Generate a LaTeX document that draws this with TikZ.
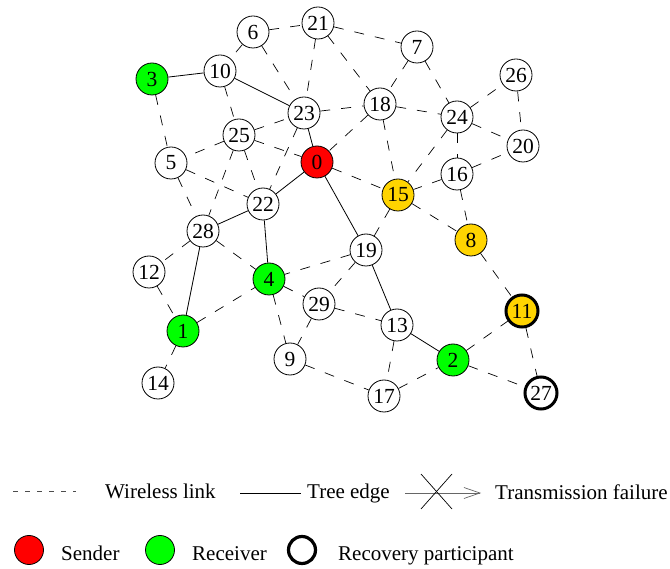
\documentclass[tikz,border=0pt]{standalone}
\usepackage{fontspec}
\setmainfont{Liberation Serif}
\usetikzlibrary{arrows.meta}
\definecolor{sendred}{RGB}{255,0,0}
\definecolor{recvgreen}{RGB}{0,255,0}
\definecolor{lostgold}{RGB}{255,212,0}

\begin{document}
\begin{tikzpicture}[x=1pt,y=-1pt,
  nd/.style={draw,circle,minimum size=32pt,inner sep=0pt,line width=0.8pt,
             font=\fontsize{21.5}{24}\selectfont},
  snd/.style={nd,fill=sendred},
  rcv/.style={nd,fill=recvgreen},
  lost/.style={nd,fill=lostgold},
  rec/.style={line width=3pt},
  wl/.style={dash pattern=on 10pt off 11pt,line width=0.7pt},
  treeedge/.style={line width=0.8pt},
  lbl/.style={anchor=base west,inner sep=0pt,font=\fontsize{21}{25}\selectfont}
]
\useasboundingbox (0,0) rectangle (670,569);

% nodes
\node[snd]  (n0)  at (317,162) {0};
\node[rcv]  (n1)  at (183,331) {1};
\node[rcv]  (n2)  at (453,360) {2};
\node[rcv]  (n3)  at (152,79)  {3};
\node[rcv]  (n4)  at (269,279) {4};
\node[nd]   (n5)  at (171,163) {5};
\node[nd]   (n6)  at (253,32)  {6};
\node[nd]   (n7)  at (417,47)  {7};
\node[lost] (n8)  at (471,240) {8};
\node[nd]   (n9)  at (290,359) {9};
\node[nd]   (n10) at (220,71)  {10};
\node[lost,rec] (n11) at (522,311) {11};
\node[nd]   (n12) at (149,272) {12};
\node[nd]   (n13) at (397,325) {13};
\node[nd]   (n14) at (158,383) {14};
\node[lost] (n15) at (398,195) {15};
\node[nd]   (n16) at (457,174) {16};
\node[nd]   (n17) at (384,396) {17};
\node[nd]   (n18) at (380,104) {18};
\node[nd]   (n19) at (366,250) {19};
\node[nd]   (n20) at (523,146) {20};
\node[nd]   (n21) at (318,23)  {21};
\node[nd]   (n22) at (263,204) {22};
\node[nd]   (n23) at (304,113) {23};
\node[nd]   (n24) at (457,117) {24};
\node[nd]   (n25) at (239,135) {25};
\node[nd]   (n26) at (516,75)  {26};
\node[nd,rec] (n27) at (541,393) {27};
\node[nd]   (n28) at (203,231) {28};
\node[nd]   (n29) at (319,304) {29};

% wireless links
\draw[wl] (n6) -- (n21);
\draw[wl] (n6) -- (n10);
\draw[wl] (n6) -- (n23);
\draw[wl] (n21) -- (n23);
\draw[wl] (n21) -- (n7);
\draw[wl] (n21) -- (n18);
\draw[wl] (n7) -- (n18);
\draw[wl] (n7) -- (n24);
\draw[wl] (n3) -- (n5);
\draw[wl] (n10) -- (n25);
\draw[wl] (n25) -- (n23);
\draw[wl] (n23) -- (n18);
\draw[wl] (n23) -- (n22);
\draw[wl] (n25) -- (n5);
\draw[wl] (n25) -- (n22);
\draw[wl] (n25) -- (n28);
\draw[wl] (n25) -- (n0);
\draw[wl] (n5) -- (n22);
\draw[wl] (n5) -- (n28);
\draw[wl] (n18) -- (n24);
\draw[wl] (n18) -- (n0);
\draw[wl] (n18) -- (n15);
\draw[wl] (n24) -- (n15);
\draw[wl] (n24) -- (n26);
\draw[wl] (n24) -- (n20);
\draw[wl] (n24) -- (n16);
\draw[wl] (n26) -- (n20);
\draw[wl] (n16) -- (n20);
\draw[wl] (n16) -- (n15);
\draw[wl] (n16) -- (n8);
\draw[wl] (n0) -- (n15);
\draw[wl] (n15) -- (n19);
\draw[wl] (n15) -- (n8);
\draw[wl] (n19) -- (n4);
\draw[wl] (n19) -- (n29);
\draw[wl] (n28) -- (n12);
\draw[wl] (n28) -- (n4);
\draw[wl] (n12) -- (n1);
\draw[wl] (n1) -- (n4);
\draw[wl] (n1) -- (n14);
\draw[wl] (n4) -- (n9);
\draw[wl] (n4) -- (n29);
\draw[wl] (n29) -- (n13);
\draw[wl] (n29) -- (n9);
\draw[wl] (n9) -- (n17);
\draw[wl] (n13) -- (n17);
\draw[wl] (n17) -- (n2);
\draw[wl] (n2) -- (n11);
\draw[wl] (n2) -- (n27);
\draw[wl] (n8) -- (n11);
\draw[wl] (n11) -- (n27);

% tree edges
\draw[treeedge] (n3) -- (n10);
\draw[treeedge] (n10) -- (n23);
\draw[treeedge] (n23) -- (n0);
\draw[treeedge] (n0) -- (n22);
\draw[treeedge] (n22) -- (n28);
\draw[treeedge] (n28) -- (n1);
\draw[treeedge] (n22) -- (n4);
\draw[treeedge] (n0) -- (n19);
\draw[treeedge] (n19) -- (n13);
\draw[treeedge] (n13) -- (n2);

% legend
\coordinate (wa) at (13,491);
\coordinate (wb) at (76,491);
\draw[dash pattern=on 5pt off 7pt,line width=0.6pt,black!70] (wa) -- (wb);
\node[lbl] (twl) at (105,498) {Wireless link};
\coordinate (ta) at (240,493);
\coordinate (tb) at (301,493);
\draw[treeedge] (ta) -- (tb);
\node[lbl] (tte) at (307,498) {Tree edge};
\coordinate (fa) at (405,493);
\coordinate (fb) at (481,493);
\draw[black!60,line width=0.7pt,-{Straight Barb[length=16pt,width=11pt]}] (fa) -- (fb);
\draw[line width=0.7pt] (421,474) -- (452,509);
\draw[line width=0.7pt] (452,474) -- (421,509);
\node[lbl] (ttf) at (495,500) {Transmission failure};

\node[draw,circle,minimum size=29pt,inner sep=0pt,line width=0.8pt,fill=sendred] (lsnd) at (29,550) {};
\node[lbl] (tsnd) at (61,560) {Sender};
\node[draw,circle,minimum size=29pt,inner sep=0pt,line width=0.8pt,fill=recvgreen] (lrcv) at (160,550) {};
\node[lbl] (trcv) at (192,560) {Receiver};
\node[draw,circle,minimum size=27pt,inner sep=0pt,line width=3.2pt] (lrec) at (302,550) {};
\node[lbl] (trec) at (338,560) {Recovery participant};
\end{tikzpicture}
\end{document}
